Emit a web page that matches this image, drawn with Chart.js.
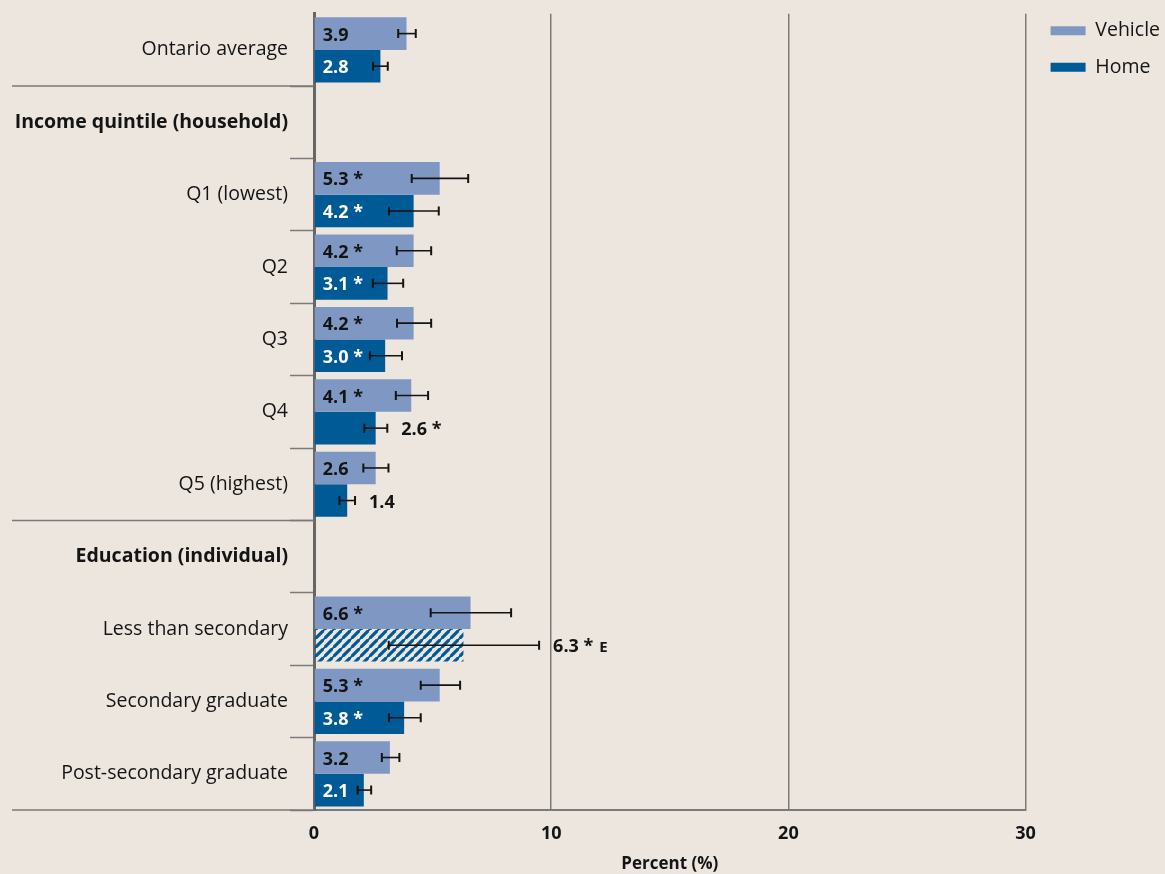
<!DOCTYPE html>
<html>
<head>
<meta charset="utf-8">
<script src="https://cdn.jsdelivr.net/npm/chart.js@4"></script>
<style>
  html, body { margin: 0; padding: 0; background: #ede6df; }
  #wrap { width: 1165px; height: 874px; }
</style>
</head>
<body>
<div id="wrap"><canvas id="chart"></canvas></div>
<script>
const categories = [
  "Ontario average",
  "Income quintile (household)",
  "Q1 (lowest)",
  "Q2",
  "Q3",
  "Q4",
  "Q5 (highest)",
  "Education (individual)",
  "Less than secondary",
  "Secondary graduate",
  "Post-secondary graduate",
];
const headerRows = [1, 7];

const vehicle = [3.9, null, 5.3, 4.2, 4.2, 4.1, 2.6, null, 6.6, 5.3, 3.2];
const vehicleLow = [3.55, null, 4.12, 3.49, 3.5, 3.45, 2.08, null, 4.92, 4.5, 2.86];
const vehicleHigh = [4.29, null, 6.5, 4.94, 4.94, 4.81, 3.14, null, 8.31, 6.16, 3.6];
const vehicleSig = [false, false, true, true, true, true, false, false, true, true, false];

const home = [2.8, null, 4.2, 3.1, 3.0, 2.6, 1.4, null, 6.3, 3.8, 2.1];
const homeLow = [2.49, null, 3.16, 2.48, 2.36, 2.12, 1.07, null, 3.15, 3.16, 1.84];
const homeHigh = [3.11, null, 5.26, 3.76, 3.71, 3.09, 1.73, null, 9.49, 4.5, 2.41];
const homeSig = [false, false, true, true, true, true, false, false, true, true, false];
const homeEstimate = [false, false, false, false, false, false, false, false, true, false, false];

const xTicks = [0, 10, 20, 30];

const VEHICLE = "#7f98c3";
const HOME = "#005a96";
const INK = "#141414";
const LINE = "#7a7a7a";
const FONT = "'Open Sans', sans-serif";

// diagonal stripes for the "use with caution" estimate
function makeHatch(color) {
  const c = document.createElement("canvas");
  c.width = 9;
  c.height = 9;
  const g = c.getContext("2d");
  g.strokeStyle = color;
  g.lineWidth = 3.2;
  g.beginPath();
  g.moveTo(-1, 10); g.lineTo(10, -1);
  g.moveTo(-5.5, 4.5); g.lineTo(4.5, -5.5);
  g.moveTo(4.5, 14.5); g.lineTo(14.5, 4.5);
  g.stroke();
  return g.createPattern(c, "repeat");
}
const hatch = makeHatch(HOME);

const decor = {
  id: "decor",
  afterLayout(chart) {
    // nudge the legend into the top-right corner
    const l = chart.legend;
    if (!l) return;
    l.left += 8; l.right += 8;
    l.top -= 8; l.bottom -= 8;
  },
  afterDraw(chart) {
    const { ctx, chartArea: a, scales: { y } } = chart;
    ctx.save();
    ctx.strokeStyle = LINE;
    ctx.lineWidth = 1.5;
    ctx.beginPath();
    headerRows.forEach((i) => {
      const yy = (y.getPixelForValue(i - 1) + y.getPixelForValue(i)) / 2;
      ctx.moveTo(y.left, yy);
      ctx.lineTo(a.left, yy);
    });
    ctx.moveTo(y.left, a.bottom);
    ctx.lineTo(a.left, a.bottom);
    ctx.stroke();
    ctx.restore();
  },
  afterDatasetsDraw(chart) {
    const { ctx, scales: { x } } = chart;
    ctx.save();
    chart.data.datasets.forEach((ds, di) => {
      const meta = chart.getDatasetMeta(di);
      meta.data.forEach((bar, i) => {
        const v = ds.data[i];
        if (v == null) return;
        const lo = x.getPixelForValue(ds.low[i]);
        const hi = x.getPixelForValue(ds.high[i]);
        const text = v.toFixed(1) + (ds.sig[i] ? " *" : "");
        const est = ds.estimate && ds.estimate[i];
        ctx.font = "bold 18px " + FONT;
        ctx.textBaseline = "alphabetic";
        ctx.textAlign = "left";
        const w = ctx.measureText(text).width;
        const sx = bar.base + 8;
        const base = bar.y + 7;
        const inside = !est && sx + w + 2 < lo;
        if (inside) {
          ctx.fillStyle = ds.labelColor;
          ctx.fillText(text, sx, base);
        } else {
          const ox = hi + 14;
          ctx.fillStyle = INK;
          ctx.fillText(text, ox, base);
          if (est) {
            ctx.font = "bold 15px " + FONT;
            ctx.fillText("E", ox + w + 6, base);
          }
        }
        // error bar
        ctx.strokeStyle = INK;
        ctx.lineWidth = 1.6;
        ctx.beginPath();
        ctx.moveTo(lo, bar.y);
        ctx.lineTo(hi, bar.y);
        ctx.stroke();
        ctx.lineWidth = 2;
        ctx.beginPath();
        ctx.moveTo(lo, bar.y - 4.5);
        ctx.lineTo(lo, bar.y + 4.5);
        ctx.moveTo(hi, bar.y - 4.5);
        ctx.lineTo(hi, bar.y + 4.5);
        ctx.stroke();
      });
    });
    ctx.restore();
  },
};

new Chart(document.getElementById("chart"), {
  type: "bar",
  data: {
    labels: categories,
    datasets: [
      {
        label: "Vehicle",
        data: vehicle,
        low: vehicleLow,
        high: vehicleHigh,
        sig: vehicleSig,
        backgroundColor: VEHICLE,
        labelColor: INK,
      },
      {
        label: "Home",
        data: home,
        low: homeLow,
        high: homeHigh,
        sig: homeSig,
        estimate: homeEstimate,
        backgroundColor: (c) => (homeEstimate[c.dataIndex] ? hatch : HOME),
        labelColor: "#ffffff",
      },
    ],
  },
  options: {
    indexAxis: "y",
    responsive: true,
    maintainAspectRatio: false,
    animation: false,
    layout: { padding: { top: 12, left: 12, right: 3, bottom: 0 } },
    datasets: { bar: { barPercentage: 1, categoryPercentage: 0.9, borderWidth: 0 } },
    scales: {
      x: {
        min: 0,
        max: 30,
        afterBuildTicks: (s) => { s.ticks = xTicks.map((v) => ({ value: v })); },
        ticks: { font: { family: FONT, size: 18, weight: "bold" }, color: INK, padding: 13 },
        grid: { color: LINE, lineWidth: 1.5, drawTicks: false },
        border: { color: LINE, width: 2 },
        title: {
          display: true,
          text: "Percent (%)",
          font: { family: FONT, size: 17, weight: "bold" },
          color: INK,
          padding: { top: 4, bottom: 0 },
        },
        afterFit: (s) => { s.height = 64; },
      },
      y: {
        ticks: {
          font: (c) => ({ family: FONT, size: 19.5, weight: headerRows.includes(c.index) ? "bold" : "normal" }),
          color: INK,
          padding: 2,
        },
        grid: {
          offset: true,
          drawOnChartArea: false,
          tickLength: 24,
          tickWidth: 1.5,
          tickColor: (c) => (c.index === 0 ? "rgba(0,0,0,0)" : LINE),
        },
        border: { color: "#666666", width: 3 },
        afterFit: (s) => { s.width = 302; },
      },
    },
    plugins: {
      legend: {
        position: "right",
        align: "start",
        labels: {
          boxWidth: 35,
          boxHeight: 9,
          padding: 17,
          color: INK,
          font: { family: FONT, size: 19.5 },
        },
      },
      tooltip: { enabled: false },
    },
  },
  plugins: [decor],
});
</script>
</body>
</html>
